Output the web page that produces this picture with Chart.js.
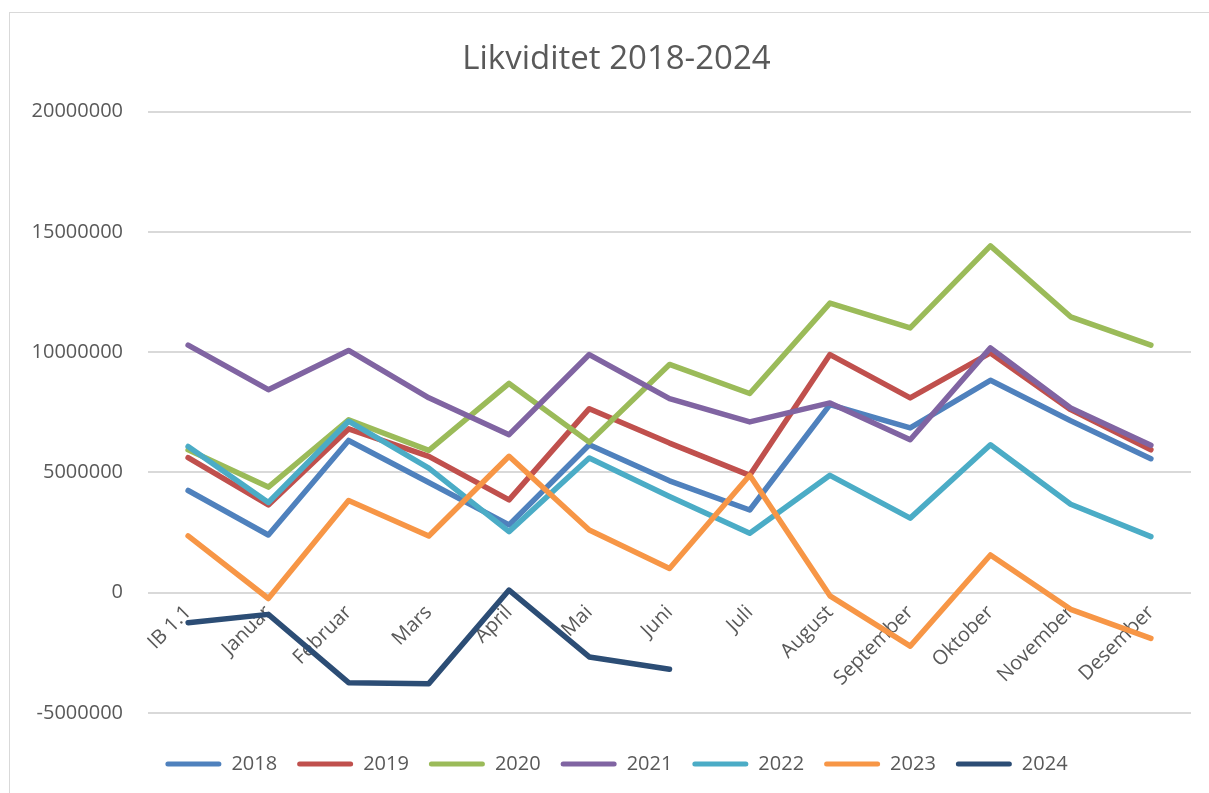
<!DOCTYPE html>
<html>
<head>
<meta charset="utf-8">
<script src="https://cdn.jsdelivr.net/npm/chart.js@4.4.1/dist/chart.umd.min.js"></script>
<style>
  html, body { margin: 0; padding: 0; background: #ffffff; }
  #frame { position: absolute; left: 9px; top: 12px; width: 1300px; height: 900px; border: 1px solid #d9d9d9; box-sizing: border-box; }
  #wrap { position: absolute; left: 0; top: 0; width: 1209px; height: 793px; }
</style>
</head>
<body>
<div id="frame"></div>
<div id="wrap"><canvas id="c" width="1209" height="793"></canvas></div>
<script>
const categories = ["IB 1.1", "Januar", "Februar", "Mars", "April", "Mai", "Juni", "Juli", "August", "September", "Oktober", "November", "Desember"];
const seriesNames = ["2018", "2019", "2020", "2021", "2022", "2023", "2024"];
const v2018 = [4250000, 2400000, 6330000, 4580000, 2820000, 6150000, 4650000, 3440000, 7820000, 6850000, 8830000, 7150000, 5570000];
const v2019 = [5620000, 3650000, 6810000, 5670000, 3860000, 7650000, 6220000, 4880000, 9900000, 8100000, 9970000, 7610000, 5940000];
const v2020 = [5940000, 4390000, 7190000, 5920000, 8700000, 6260000, 9490000, 8280000, 12040000, 11010000, 14420000, 11470000, 10290000];
const v2021 = [10290000, 8440000, 10070000, 8100000, 6570000, 9900000, 8070000, 7100000, 7890000, 6360000, 10180000, 7680000, 6130000];
const v2022 = [6080000, 3750000, 7130000, 5180000, 2540000, 5600000, 4000000, 2470000, 4880000, 3100000, 6150000, 3680000, 2330000];
const v2023 = [2360000, -240000, 3830000, 2360000, 5670000, 2610000, 1010000, 4880000, -130000, -2220000, 1570000, -690000, -1900000];
const v2024 = [-1250000, -900000, -3740000, -3780000, 110000, -2670000, -3180000, null, null, null, null, null, null];
const yTicks = [-5000000, 0, 5000000, 10000000, 15000000, 20000000];

const seriesValues = [v2018, v2019, v2020, v2021, v2022, v2023, v2024];
const colors = ["#4F81BD", "#C0504D", "#9BBB59", "#8064A2", "#4BACC6", "#F79646", "#2C4D75"];
const textColor = "#595959";
const fontFam = "'Open Sans', 'Liberation Sans', sans-serif";

const datasets = seriesNames.map((name, i) => ({
  label: name,
  data: seriesValues[i],
  borderColor: colors[i],
  backgroundColor: colors[i],
  borderWidth: 5.5,
  pointRadius: 0,
  pointHoverRadius: 0,
  fill: false,
  tension: 0,
  spanGaps: false,
  borderCapStyle: 'round',
  borderJoinStyle: 'round',
  order: seriesNames.length - 1 - i
}));

// shift the title and legend to their places in the chart frame
const shiftPlugin = {
  id: 'shiftBlocks',
  afterLayout(chart) {
    const dx = 21;
    if (chart.titleBlock) { chart.titleBlock.left += dx; chart.titleBlock.right += dx; }
    if (chart.legend) {
      chart.legend.left += dx; chart.legend.right += dx;
      chart.legend.top += 21; chart.legend.bottom += 21;
    }
  }
};

new Chart(document.getElementById('c'), {
  type: 'line',
  data: { labels: categories, datasets },
  plugins: [shiftPlugin],
  options: {
    responsive: false,
    animation: false,
    events: [],
    layout: { padding: { left: 0, right: 18, top: 0, bottom: 30 } },
    plugins: {
      tooltip: { enabled: false },
      title: {
        display: true,
        text: 'Likviditet 2018-2024',
        color: textColor,
        font: { family: fontFam, size: 33, weight: 'normal' },
        padding: { top: 40, bottom: 32 }
      },
      legend: {
        display: true,
        position: 'bottom',
        labels: {
          color: textColor,
          font: { family: fontFam, size: 20 },
          boxWidth: 56,
          boxHeight: 5,
          padding: 20,
          generateLabels: (chart) => chart.data.datasets.map((ds, i) => ({
            text: ds.label,
            fillStyle: ds.borderColor,
            strokeStyle: ds.borderColor,
            lineWidth: 0,
            borderRadius: 2.5,
            fontColor: textColor,
            hidden: false,
            datasetIndex: i
          }))
        }
      }
    },
    scales: {
      x: {
        type: 'category',
        offset: true,
        position: { y: 0 },
        grid: { display: false, drawTicks: false },
        border: { display: false },
        ticks: {
          color: textColor,
          font: { family: fontFam, size: 20 },
          minRotation: 45,
          maxRotation: 45,
          autoSkip: false,
          padding: 8
        }
      },
      y: {
        min: -5000000,
        max: 20000000,
        afterFit: (s) => { s.width = 148; },
        afterBuildTicks: (s) => { s.ticks = yTicks.map(v => ({ value: v })); },
        grid: { color: '#D9D9D9', lineWidth: 2, drawTicks: false },
        border: { display: false },
        ticks: {
          color: textColor,
          font: { family: fontFam, size: 20 },
          padding: 25,
          callback: (v) => String(v)
        }
      }
    }
  }
});
</script>
</body>
</html>
